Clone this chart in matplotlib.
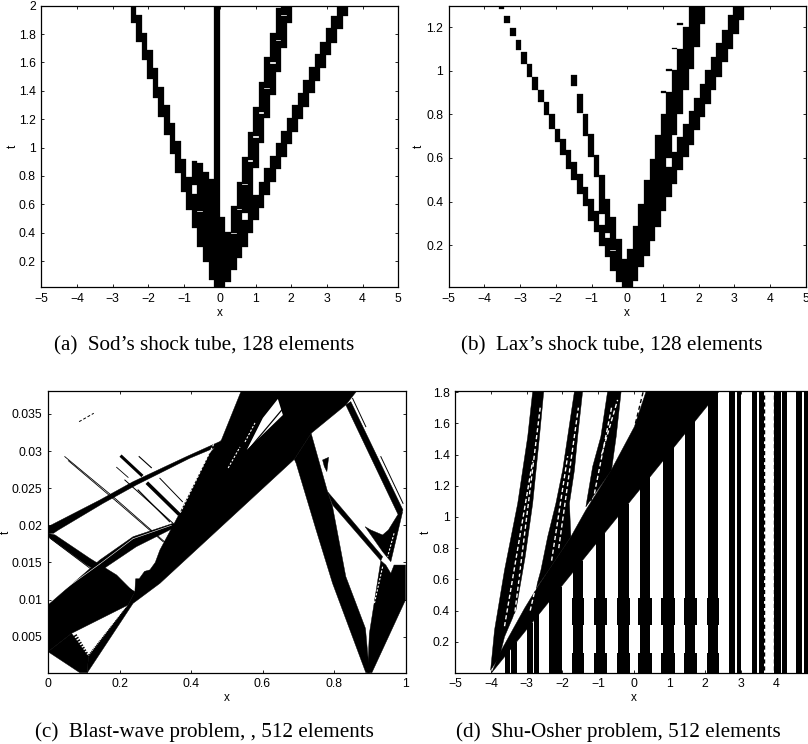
import numpy as np
import matplotlib
matplotlib.use("Agg")
from matplotlib import pyplot as plt

W, H = 808, 744
plt.rcParams['font.family'] = ['Liberation Sans', 'DejaVu Sans']

# cell width of the flagged columns in the two 128 element runs
cell_dx = 0.15625

# Sod: column index, start time, end time of each flagged stretch
sod_col = [-16, -15, -14, -13, -12, -11, -10, -9, -8, -7, -6, -5, -5, -4, -4, -3, -2, -1, 0, 1,
           2, 2, 3, 3, 4, 4, 4, 5, 5, 6, 6, 6, 7, 7, 7, 8, 8, 8, 9, 9, 9, 10, 10, 10,
           11, 11, 11, 12, 12, 13, 14, 15, 16, 17, 18, 19, 20, 21, 22]
sod_t0 = [1.88, 1.746, 1.617, 1.48, 1.347, 1.218, 1.088, 0.952, 0.818, 0.689, 0.56, 0.43, 0.736, 0.30, 0.555,
          0.196, 0.066, 0.0, 0.0, 0.055,
          0.137, 0.40, 0.219, 0.57, 0.30, 0.536, 0.745, 0.395, 0.91, 0.489, 0.853, 1.08, 0.571, 1.03, 1.25,
          0.665, 1.206, 1.42, 0.759, 1.37, 1.60, 0.846, 1.535, 1.76,
          0.936, 1.70, 1.935, 1.025, 1.875, 1.112, 1.199, 1.288, 1.382, 1.469, 1.558, 1.652, 1.739, 1.833, 1.927]
sod_t1 = [2.0, 1.934, 1.81, 1.69, 1.558, 1.43, 1.30, 1.175, 1.044, 0.917, 0.795, 0.67, 0.905, 0.545, 0.89,
          0.83, 0.775, 2.0, 0.51, 0.407,
          0.39, 0.59, 0.56, 0.76, 0.489, 0.735, 0.935, 0.90, 1.11, 0.665, 1.07, 1.288, 0.759, 1.24, 1.464,
          0.853, 1.41, 1.637, 0.943, 1.59, 1.805, 1.034, 1.75, 1.981,
          1.119, 1.925, 2.0, 1.206, 2.0, 1.30, 1.387, 1.476, 1.57, 1.657, 1.746, 1.84, 1.927, 2.0, 2.0]

# Lax: same layout
lax_col = [-23, -22, -21, -20, -19, -18, -17, -16, -15, -14, -13, -12, -11, -10, -10, -9, -9, -8, -8, -7, -7,
           -6, -6, -5, -5, -4, -4, -3, -3, -2, -1, 0, 1, 2, 3, 4, 5, 6, 6,
           7, 7, 7, 8, 8, 8, 9, 9, 9, 10, 10, 11, 11, 12, 12, 13, 13, 14, 15, 16, 17, 18, 19, 20, 21]
lax_t0 = [1.283, 1.219, 1.16, 1.096, 1.034, 0.973, 0.911, 0.858, 0.796, 0.735, 0.673, 0.612, 0.55, 0.497, 0.93,
          0.435, 0.807, 0.381, 0.701, 0.312, 0.604, 0.259, 0.512, 0.197, 0.343, 0.143, 0.255, 0.082, 0.177,
          0.028, 0.0, 0.0, 0.036, 0.097, 0.151, 0.22, 0.282, 0.358, 0.899,
          0.42, 0.601, 1.0, 0.481, 0.704, 1.099, 0.543, 0.804, 1.209, 0.604, 0.911, 0.658, 1.011, 0.727, 1.111,
          0.788, 1.216, 0.85, 0.911, 0.973, 1.042, 1.099, 1.168, 1.234, 1.295]
lax_t1 = [1.30, 1.254, 1.196, 1.142, 1.088, 1.034, 0.973, 0.911, 0.858, 0.804, 0.735, 0.689, 0.635, 0.581, 0.98,
          0.527, 0.896, 0.466, 0.801, 0.412, 0.712, 0.358, 0.616, 0.294, 0.52, 0.232, 0.412, 0.171, 0.328,
          0.228, 0.136, 0.182, 0.289, 0.389, 0.497, 0.596, 0.704, 0.804, 0.908,
          0.558, 0.904, 1.008, 0.627, 1.004, 1.106, 0.696, 1.103, 1.219, 0.755, 1.203, 0.815, 1.30, 0.876, 1.30,
          0.942, 1.30, 1.004, 1.065, 1.13, 1.188, 1.257, 1.30, 1.30, 1.30]

# Blast wave: filled regions as (x, t) outlines
blast_regions = [
    ([0, .145, .243, .224, .066, 0], [.00895, .01398, .01106, .00927, .00545, .00298]),
    ([0, .089, .11, .113, .066], [.00298, .00015, .00015, .00231, .00545]),
    ([.11, .238, .313, .689, .736, .833, .863, .54, .485, .452, .368, .313, .3, .285, .27, .255, .245, .243, .224, .113],
     [.00015, .00949, .01218, .02889, .03239, .03621, .03805, .03805, .03149, .0297, .02161, .01668, .015, .014, .0138, .0128, .0128, .01106, .00927, .00231]),
    ([.689, .736, .782, .796, .833, .888, .899, .889, .796, .75, .694],
     [.02889, .03239, .02453, .02251, .0131, .00612, .00015, .00015, .01218, .01937, .02835]),
    ([.782, .936, .931, .796], [.02453, .01578, .01524, .02274]),
    ([.768, .785, .78, .773], [.0288, .02916, .02723, .0279]),
    ([.833, .847, .993, .982], [.03621, .03666, .02206, .02117]),
    ([.894, .906, 1.0, 1.0, .968, .959, .945, .931, .899],
     [.00015, .00015, .00994, .01465, .01465, .01353, .01465, .01524, .00545]),
    ([.887, .903, .936, .952, .978, .992, .959, .936], [.01982, .01937, .0187, .01937, .02139, .02184, .0151, .01645]),
    ([0, .145, .238, .387, .48, .485, .396, .247, .154, .029, .015, 0],
     [.01982, .02341, .02588, .02925, .03127, .03082, .02902, .02543, .02296, .01937, .01892, .01892]),
    ([0, .02, .117, .192, .243, .233, .182, .108, 0], [.01892, .0187, .01555, .01331, .01084, .01075, .01263, .01465, .01847]),
    ([0, .145, .238, .35, .359, .247, .164, 0], [.00927, .01533, .01847, .02027, .01982, .01712, .01443, .00837]),
]
blast_gaps = [
    ([.643, .657, .556, .601], [.03702, .03486, .03015, .03446]),
]
# thin tracks: x0, t0, x1, t1, width
blast_lines = [
    (.047, .02925, .182, .02386, .6), (.182, .02386, .331, .01757, .6),
    (.057, .0287, .192, .0232, .6), (.192, .0232, .322, .0178, .6),
    (.206, .02925, .261, .02678, 2.2), (.28, .02557, .364, .02161, 2.6),
    (.255, .02925, .289, .02777, .8), (.192, .02781, .224, .02646, .6),
    (.313, .02633, .376, .02319, .7), (.215, .0261, .35, .02027, .7),
    (.252, .02476, .34, .02049, .8), (.006, .01825, .192, .01151, .6),
    (.852, .0371, .889, .03329, .7), (.931, .02925, .993, .02296, .7),
    (.556, .02992, .654, .03554, .9),
]
blast_white = [
    (.504, .02772, .537, .03055), (.551, .03123, .579, .03379), (.37, .0217, .53, .0375),
    (.936, .01443, .913, .00949), (.968, .01892, .95, .01578),
]
# white hairlines through the band from the left edge
blast_slits = [(0, .0098, .145, .0148), (.145, .0148, .238, .0182), (.238, .0182, .345, .02)]
# comb-like edges of the small triangle: x0, t0, x1, t1, width
blast_combs = [(.075, .0052, .11, .0024, 3.0), (.113, .0023, .22, .0088, 2.0)]
blast_dashes_x = [.087, .128]
blast_dashes_t = [.03396, .03509]

# Shu-Osher: standing bars behind the shock, left edge, right edge, top
shu_left = [-3.62, -3.44, -3.0, -2.80, -2.36, -1.74, -1.10, -0.48, 0.13, 0.78, 1.40, 2.05,
            2.68, 2.89, 3.31, 3.52, 3.94, 4.15, 4.55, 4.78]
shu_right = [-3.47, -3.28, -2.83, -2.64, -2.02, -1.38, -0.76, -0.10, 0.51, 1.16, 1.77, 2.40,
             2.84, 3.01, 3.47, 3.66, 4.13, 4.30, 4.73, 4.95]
shu_top = [0.15, 0.2, 0.32, 0.38, 0.55, 0.72, 0.9, 1.08, 1.27, 1.45, 1.63, 1.805,
           1.805, 1.805, 1.805, 1.805, 1.805, 1.805, 1.805, 1.805]
shu_inset = [0.0, 0.0, 0.0, 0.0, 0.0, 0.04, 0.04, 0.04, 0.04, 0.04, 0.04, 0.03,
             0.0, 0.0, 0.0, 0.0, 0.0, 0.0, 0.0, 0.0]
shu_regions = [
    ([-3.98, -3.76, -3.06, -2.69, -2.41, -1.76, -1.34, -0.63, 0.02, 0.35, 2.40],
     [.0015, .125, .414, .553, .649, .873, 1.044, 1.30, 1.578, 1.805, 1.805]),
    ([-4.01, -3.9, -3.62, -3.25, -2.97, -2.83, -2.52, -2.64, -2.83, -3.04, -3.3, -3.62, -3.76],
     [.018, .275, .659, 1.087, 1.514, 1.805, 1.805, 1.514, 1.087, .745, .403, .232, .104]),
    ([-2.74, -2.6, -2.41, -2.18, -1.99, -1.85, -1.66, -1.43, -1.57, -1.66, -1.8, -1.76, -2.41],
     [.542, .659, .873, 1.087, 1.30, 1.514, 1.805, 1.805, 1.514, 1.30, 1.087, .873, .649]),
    ([-1.34, -1.15, -.92, -.73, -.35, -.49, -.62], [1.065, 1.322, 1.514, 1.805, 1.805, 1.514, 1.30]),
]
# dashed tracks: x0, t0, x1, t1, colour
shu_dashes = [
    (-3.62, .3, -2.83, 1.36, 'w'), (-3.35, .35, -2.62, 1.7, 'w'), (-3.3, .55, -3.1, .72, 'k'),
    (-2.3, .72, -1.85, 1.39, 'w'), (-2.1, .8, -1.55, 1.7, 'w'),
    (-1.1, 1.15, -.62, 1.7, 'w'), (-.9, 1.4, -.45, 1.75, 'w'), (.05, 1.6, .27, 1.805, 'k'),
    (-2.75, .55, -2.5, 1.0, 'w'), (-1.2, 1.1, -0.9, 1.45, 'k'), (-2.9, .4, -2.75, .55, 'w'),
    (3.66, .02, 3.66, 1.8, 'k'), (3.94, .02, 3.94, 1.8, 'k'),
]


def make_axes(fig, left, right, top, bottom, label_px):
    ax = fig.add_axes([left / W, 1 - bottom / H, (right - left) / W, (bottom - top) / H])
    ax.tick_params(direction='in', top=True, right=True, length=2.5, width=0.6, labelsize=8.8, pad=4)
    for s in ax.spines.values():
        s.set_linewidth(0.9)
    ax.set_xlabel('x', fontsize=8.5, labelpad=1.5)
    ax.set_ylabel('t', fontsize=8.5, va='center')
    ax.yaxis.set_label_coords((label_px - left) / (right - left), 0.5)
    return ax


def draw_cells(ax, col, t0, t1):
    t0 = np.array(t0)
    ax.bar(np.array(col) * cell_dx, np.array(t1) - t0, bottom=t0, width=cell_dx, align='edge',
           color='k', edgecolor='k', lw=0.2)


def fmt(ticks):
    return ['%g' % v for v in ticks]


fig = plt.figure(figsize=(W / 100, H / 100), dpi=100)
x_ticks = list(range(-5, 6))

ax = make_axes(fig, 41.3, 398.3, 5.7, 287, 13)
draw_cells(ax, sod_col, sod_t0, sod_t1)
ax.set_xlim(-5, 5)
ax.set_ylim(0.017, 2)
ax.set_xticks(x_ticks)
ticks = [0.2, 0.4, 0.6, 0.8, 1, 1.2, 1.4, 1.6, 1.8, 2]
ax.set_yticks(ticks, fmt(ticks))

ax = make_axes(fig, 448.7, 805.7, 5.7, 287, 419)
draw_cells(ax, lax_col, lax_t0, lax_t1)
ax.set_xlim(-5, 5)
ax.set_ylim(0.007, 1.3)
ax.set_xticks(x_ticks)
ticks = [0.2, 0.4, 0.6, 0.8, 1, 1.2]
ax.set_yticks(ticks, fmt(ticks))

ax = make_axes(fig, 48, 405.5, 391.3, 672.7, 6)
for xs, ts in blast_regions:
    ax.fill(xs, ts, color='k', lw=0.3)
for xs, ts in blast_gaps:
    ax.fill(xs, ts, color='w', lw=0)
for x0, t0, x1, t1, lw in blast_lines:
    ax.plot([x0, x1], [t0, t1], color='k', lw=lw)
for x0, t0, x1, t1, lw in blast_combs:
    ax.plot([x0, x1], [t0, t1], color='k', lw=lw, ls=(0, (0.35, 0.35)))
for x0, t0, x1, t1 in blast_white:
    ax.plot([x0, x1], [t0, t1], color='w', lw=0.8, ls=(0, (2, 1.5)))
for x0, t0, x1, t1 in blast_slits:
    ax.plot([x0, x1], [t0, t1], color='w', lw=0.4)
ax.plot(blast_dashes_x, blast_dashes_t, color='k', lw=0.7, ls=(0, (3, 2)))
ax.set_xlim(0, 1)
ax.set_ylim(0.00015, 0.03805)
ticks = [0, 0.2, 0.4, 0.6, 0.8, 1]
ax.set_xticks(ticks, fmt(ticks))
ticks = [0.005, 0.01, 0.015, 0.02, 0.025, 0.03, 0.035]
ax.set_yticks(ticks, fmt(ticks))

ax = make_axes(fig, 455.3, 812, 391.3, 672.7, 426)
for l, r, top, ins in zip(shu_left, shu_right, shu_top, shu_inset):
    ax.bar(l + ins, top, width=r - l - 2 * ins, align='edge', color='k', edgecolor='k', lw=0)
    # wider at the start and around t=0.4
    if ins > 0:
        ax.bar(l, 0.13, width=r - l, align='edge', color='k', lw=0)
        ax.bar(l, 0.17, bottom=0.31, width=r - l, align='edge', color='k', lw=0)
for xs, ts in shu_regions:
    ax.fill(xs, ts, color='k', lw=0.3)
for x0, t0, x1, t1, c in shu_dashes:
    ax.plot([x0, x1], [t0, t1], color=c, lw=1.0, ls=(0, (3, 2)))
ax.set_xlim(-5, 5)
ax.set_ylim(0.002, 1.805)
# the 5 falls outside the page in the reference
ax.set_xticks(x_ticks, [str(v).replace('-', '\u2212') for v in x_ticks[:-1]] + [''])
ticks = [0.2, 0.4, 0.6, 0.8, 1, 1.2, 1.4, 1.6, 1.8]
ax.set_yticks(ticks, fmt(ticks))

captions = ['(a)  Sod\u2019s shock tube, 128 elements', '(b)  Lax\u2019s shock tube, 128 elements',
            '(c)  Blast-wave problem, , 512 elements', '(d)  Shu-Osher problem, 512 elements']
cap_x = [204, 612, 204, 618]
cap_y = [346, 346, 732, 732]
for c, cx, cy in zip(captions, cap_x, cap_y):
    fig.text(cx / W, 1 - cy / H, c, ha='center', va='center', family='Liberation Serif', fontsize=15.2)

fig.savefig('out.png', dpi=100)
